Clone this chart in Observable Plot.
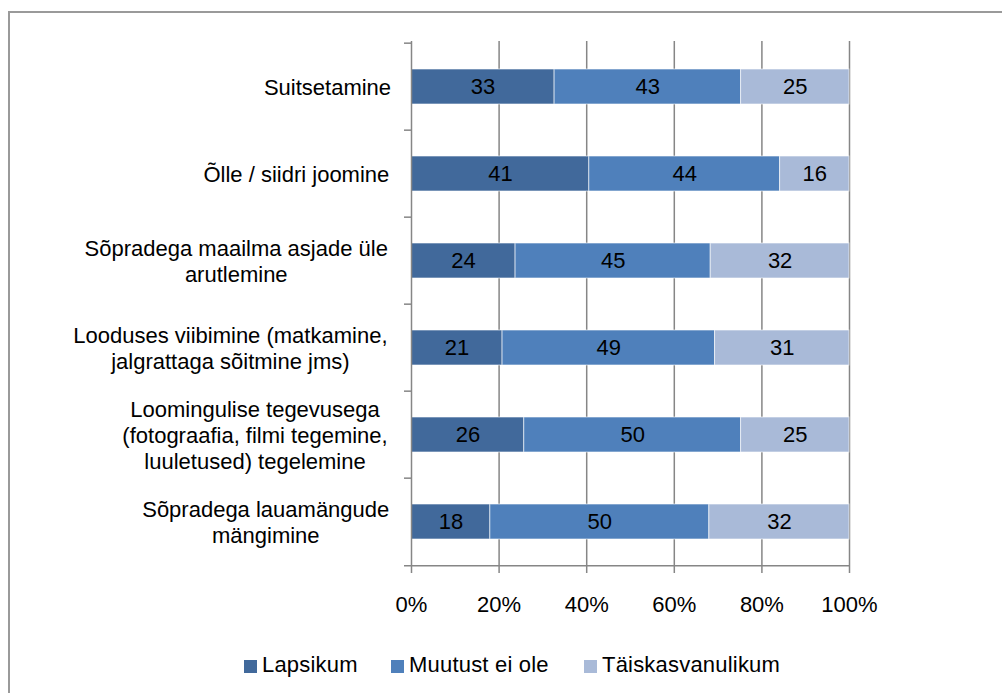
<!DOCTYPE html>
<html>
<head>
<meta charset="utf-8">
<script src="https://cdn.jsdelivr.net/npm/d3@7"></script>
<script src="https://cdn.jsdelivr.net/npm/@observablehq/plot@0.6"></script>
<style>
  html, body { margin: 0; padding: 0; background: #fff; }
  body { width: 1002px; height: 693px; position: relative; overflow: hidden; font-family: "Liberation Sans", Arial, sans-serif; }
  #frame { position: absolute; left: 8px; top: 11px; width: 1100px; height: 800px; border-top: 2px solid #9a9a9a; border-left: 2px solid #9a9a9a; }
  #chart { position: absolute; left: 0; top: 0; }
  g[aria-label="category-label"] { letter-spacing: 0.4px; }
  .leg { position: absolute; top: 660px; height: 13px; font-size: 22px; color: #000; }
  .leg .sw { position: absolute; left: 0; top: 0; width: 13px; height: 13px; }
  .leg .tx { position: absolute; left: 18px; top: -8px; line-height: 25px; white-space: nowrap; letter-spacing: 0.2px; }
</style>
</head>
<body>
<div id="frame"></div>
<div id="chart"></div>
<div id="legend"></div>
<script>
const categories = [
  "Suitsetamine",
  "Õlle / siidri joomine",
  "Sõpradega maailma asjade üle\narutlemine",
  "Looduses viibimine (matkamine,\njalgrattaga sõitmine jms)",
  "Loomingulise tegevusega\n(fotograafia, filmi tegemine,\nluuletused) tegelemine",
  "Sõpradega lauamängude\nmängimine"
];
const seriesNames = ["Lapsikum", "Muutust ei ole", "Täiskasvanulikum"];
const lapsikum = [33, 41, 24, 21, 26, 18];
const muutustEiOle = [43, 44, 45, 49, 50, 50];
const taiskasvanulikum = [25, 16, 32, 31, 25, 32];
const xTicks = [0, 0.2, 0.4, 0.6, 0.8, 1];
const colors = ["#41699b", "#4f80bb", "#a9bad8"];

const seriesValues = [lapsikum, muutustEiOle, taiskasvanulikum];
const data = [];
categories.forEach((c, i) => {
  seriesNames.forEach((s, j) => data.push({cat: c, series: s, value: seriesValues[j][i]}));
});

const W = 1002, H = 620, mt = 41, mb = 53, ml = 411, mr = 153;
const step = (H - mt - mb) / categories.length;
const labelFont = 22;
const gap = 18;
const ls = 0.4;

// measure label widths for centered-within-block alignment
const ctx = document.createElement("canvas").getContext("2d");
ctx.font = `${labelFont}px "Liberation Sans"`;
const widths = categories.map(c => Math.max(...c.split("\n").map(l => ctx.measureText(l).width + ls * l.length)));

const stackOpts = {x: "value", y: "cat", z: "series", offset: "normalize", order: seriesNames};

const marks = [
  Plot.ruleX(xTicks.slice(1), {stroke: "#868686", strokeWidth: 1.5}),
  Plot.barX(data, Plot.stackX({...stackOpts, fill: "series", stroke: "#ffffff", strokeOpacity: 0.6, strokeWidth: 1})),
  Plot.text(data, Plot.stackX({...stackOpts, text: "value", fill: "#000", fontSize: labelFont})),
  Plot.ruleX([0], {stroke: "#868686", strokeWidth: 1.5}),
  Plot.ruleY(categories, {y: d => d, dy: -step / 2, x1: 0, x2: 0, insetLeft: -7, stroke: "#868686", strokeWidth: 1.5}),
  Plot.ruleY([categories[categories.length - 1]], {y: d => d, dy: step / 2, x1: 0, x2: 1, insetLeft: -7, stroke: "#868686", strokeWidth: 1.5}),
  Plot.axisX({ticks: xTicks, tickFormat: d3.format(".0%"), tickSize: 6, tickPadding: 23, fontSize: labelFont, stroke: "#868686", strokeWidth: 1.5, label: null})
];
categories.forEach((c, i) => {
  marks.push(Plot.text([c], {
    y: d => d, text: d => d, frameAnchor: "left", textAnchor: "middle",
    dx: -(gap + widths[i] / 2), fontSize: labelFont, lineHeight: 1.18, fill: "#000",
    ariaLabel: "category-label"
  }));
});

const chart = Plot.plot({
  width: W, height: H,
  marginTop: mt, marginBottom: mb, marginLeft: ml, marginRight: mr,
  style: {fontFamily: '"Liberation Sans", Arial, sans-serif', color: "#000", background: "transparent", overflow: "visible"},
  x: {domain: [0, 1], axis: null},
  y: {domain: categories, paddingInner: 0.6, paddingOuter: 0.3, axis: null},
  color: {domain: seriesNames, range: colors},
  marks
});
document.getElementById("chart").appendChild(chart);

// legend
const legX = [244, 391, 584];
const legend = document.getElementById("legend");
seriesNames.forEach((s, j) => {
  const d = document.createElement("div");
  d.className = "leg";
  d.style.left = legX[j] + "px";
  d.innerHTML = `<span class="sw" style="background:${colors[j]}"></span><span class="tx">${s}</span>`;
  legend.appendChild(d);
});
</script>
</body>
</html>
